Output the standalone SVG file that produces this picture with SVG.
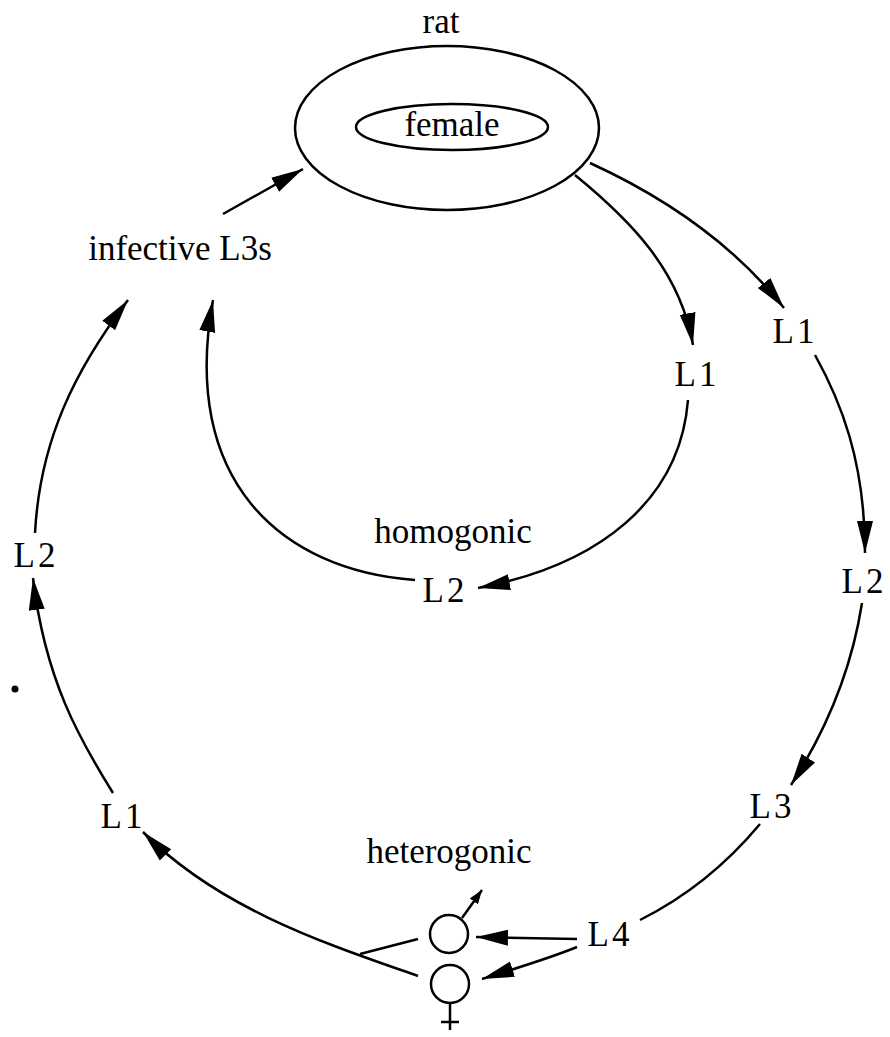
<svg xmlns="http://www.w3.org/2000/svg" width="890" height="1037" viewBox="0 0 890 1037">
<style>
.t{font-family:"Liberation Serif","Times New Roman",serif;font-size:35px;fill:#000;text-anchor:middle}
.l{letter-spacing:3px}
.s{fill:none;stroke:#000;stroke-width:2.5}
.a{fill:none;stroke:#000;stroke-width:2.5;marker-end:url(#ah)}
</style>
<defs>
<marker id="ah" viewBox="0 0 32 18" refX="32" refY="9" markerWidth="32" markerHeight="18" markerUnits="userSpaceOnUse" orient="auto">
<path d="M0,1 L32,9 L0,17 z" fill="#000"/>
</marker>
<marker id="sm" viewBox="0 0 14 10" refX="14" refY="5" markerWidth="14" markerHeight="10" markerUnits="userSpaceOnUse" orient="auto">
<path d="M0,0 L14,5 L0,10 z" fill="#000"/>
</marker>
</defs>
<rect width="890" height="1037" fill="#fff"/>
<g id="rat">
<text class="t" x="441" y="33">rat</text>
<ellipse class="s" cx="447" cy="128" rx="152" ry="82"/>
</g>
<g id="female">
<ellipse class="s" cx="452" cy="127" rx="96" ry="23"/>
<text class="t" x="452" y="136">female</text>
</g>
<g id="infective"><text class="t" x="180" y="260">infective L3s</text></g>
<g id="L1-inner"><text class="t l" x="697" y="386">L1</text></g>
<g id="L1-outer"><text class="t l" x="795" y="343">L1</text></g>
<g id="L2-right"><text class="t l" x="864" y="593">L2</text></g>
<g id="L3"><text class="t l" x="772" y="818">L3</text></g>
<g id="L4"><text class="t l" x="610" y="946">L4</text></g>
<g id="homogonic"><text class="t" x="453" y="543">homogonic</text></g>
<g id="L2-homo"><text class="t l" x="445" y="602">L2</text></g>
<g id="heterogonic"><text class="t" x="449" y="863">heterogonic</text></g>
<g id="L1-left"><text class="t l" x="123" y="828">L1</text></g>
<g id="L2-left"><text class="t l" x="36" y="567">L2</text></g>
<g id="male-adult">
<circle class="s" cx="449" cy="934" r="19"/>
<path d="M462 918 L482 890" fill="none" stroke="#000" stroke-width="2.5" marker-end="url(#sm)"/>
</g>
<g id="female-adult">
<circle class="s" cx="450" cy="984" r="19"/>
<path class="s" d="M450 1003 L450 1030 M441 1022 L459 1022"/>
</g>
<circle cx="15" cy="689" r="3.5" fill="#000"/>
<g id="connectors">
<path class="a" d="M223 214 L303 169"/>
<path class="a" d="M575 175 C630 220 680 270 693 345"/>
<path class="a" d="M590 163 C660 195 730 240 784 308"/>
<path class="a" d="M815 355 C840 400 865 460 865 553"/>
<path class="a" d="M862 603 C850 680 820 740 791 785"/>
<path class="s" d="M760 824 C730 860 690 895 640 920"/>
<path class="a" d="M577 939 L476 937"/>
<path class="a" d="M577 947 C545 960 510 970 482 979"/>
<path class="a" d="M418 976 C330 945 220 910 143 832"/>
<path class="s" d="M360 954 L418 939"/>
<path class="a" d="M113 793 C80 740 45 680 33 578"/>
<path class="a" d="M35 533 C40 440 75 370 128 300"/>
<path class="a" d="M415 580 C280 570 180 480 213 300"/>
<path class="a" d="M688 400 C680 500 600 565 478 588"/>
</g>
</svg>
